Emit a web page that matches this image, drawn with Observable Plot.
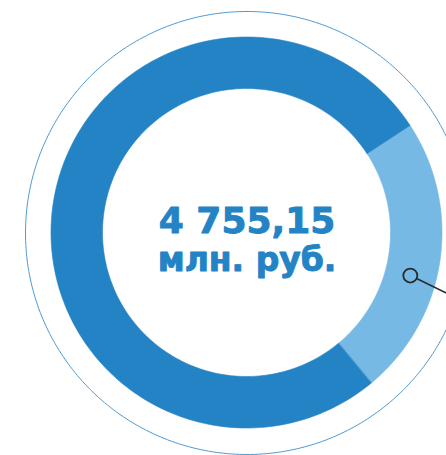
<!DOCTYPE html>
<html>
<head>
<meta charset="utf-8">
<script src="https://cdn.jsdelivr.net/npm/d3@7"></script>
<script src="https://cdn.jsdelivr.net/npm/@observablehq/plot@0.6"></script>
<style>
  html, body { margin: 0; padding: 0; background: #ffffff; }
  #chart svg { display: block; }
</style>
</head>
<body>
<div id="chart"></div>
<script>
// ---- data ----
const segmentNames = ["Сегмент 2", "Сегмент 1"];
const segmentShares = [23.2, 76.8];          // % of total
const segmentColors = ["#76b9e5", "#2383c5"];
const totalLabel = "4 755,15";
const unitLabel = "млн. руб.";
const calloutAngleDeg = 104.6;               // annotation marker angle (clockwise from 12 o'clock)

// ---- geometry constants ----
const W = 446, H = 455;
const CX = 246.5, CY = 232.5;                // pixel centre
const R_OUT = 195.5, R_IN = 144, R_RING = 221.5;
const START_DEG = 56.8;

const pie = d3.pie().sort(null).value(d => d.share)
  .startAngle(START_DEG * Math.PI / 180)
  .endAngle(START_DEG * Math.PI / 180 + 2 * Math.PI);
const segs = pie(segmentNames.map((name, i) => ({name, share: segmentShares[i]})));

const pt = (r, a) => [r * Math.sin(a), r * Math.cos(a)];

const ringRows = [];
for (const s of segs) {
  const n = 200;
  for (let k = 0; k <= n; k++) {
    const a = s.startAngle + (s.endAngle - s.startAngle) * k / n;
    const [xo, yo] = pt(R_OUT, a);
    const [xi, yi] = pt(R_IN, a);
    ringRows.push({seg: s.data.name, xo, yo, xi, yi});
  }
}

const circleRows = d3.range(0, 361).map(d => {
  const [x, y] = pt(R_RING, d * Math.PI / 180);
  return {x, y};
});

const ca = calloutAngleDeg * Math.PI / 180;
const mid = (R_OUT + R_IN) / 2 - 1;
const [mx, my] = pt(mid, ca);
const ux = 29 / Math.hypot(29, 14), uy = -14 / Math.hypot(29, 14);
const callout = [{x: mx, y: my}];
const leader = [{x1: mx + 7 * ux, y1: my + 7 * uy, x2: mx + 120 * ux, y2: my + 120 * uy}];

const chart = Plot.plot({
  width: W,
  height: H,
  margin: 0,
  x: {domain: [-CX, W - CX], axis: null},
  y: {domain: [-(H - CY), CY], axis: null},
  color: {domain: segmentNames, range: segmentColors},
  style: {background: "#ffffff"},
  marks: [
    Plot.line(circleRows, {x: "x", y: "y", stroke: "#4f9ad3", strokeWidth: 1, curve: "linear"}),
    Plot.area(ringRows, {x1: "xi", y1: "yi", x2: "xo", y2: "yo", z: "seg", fill: "seg", stroke: "seg", strokeWidth: 0.6}),
    Plot.text([totalLabel], {x: 0, y: 0, text: d => d, dy: 0, lineAnchor: "bottom", textAnchor: "middle",
      fill: "#2383c5", stroke: "#2383c5", strokeWidth: 0.9, fontSize: 36, fontWeight: "bold", fontFamily: "DejaVu Sans"}),
    Plot.text([unitLabel], {x: 0, y: 0, text: d => d, dy: 37.5, lineAnchor: "bottom", textAnchor: "middle",
      fill: "#2383c5", stroke: "#2383c5", strokeWidth: 0.9, fontSize: 33, fontWeight: "bold", fontFamily: "DejaVu Sans"}),
    Plot.dot(callout, {x: "x", y: "y", r: 7, fill: "none", stroke: "#2b2b2b", strokeWidth: 1.8}),
    Plot.link(leader, {x1: "x1", y1: "y1", x2: "x2", y2: "y2", stroke: "#2b2b2b", strokeWidth: 1.6})
  ]
});
document.getElementById("chart").appendChild(chart);
</script>
</body>
</html>
